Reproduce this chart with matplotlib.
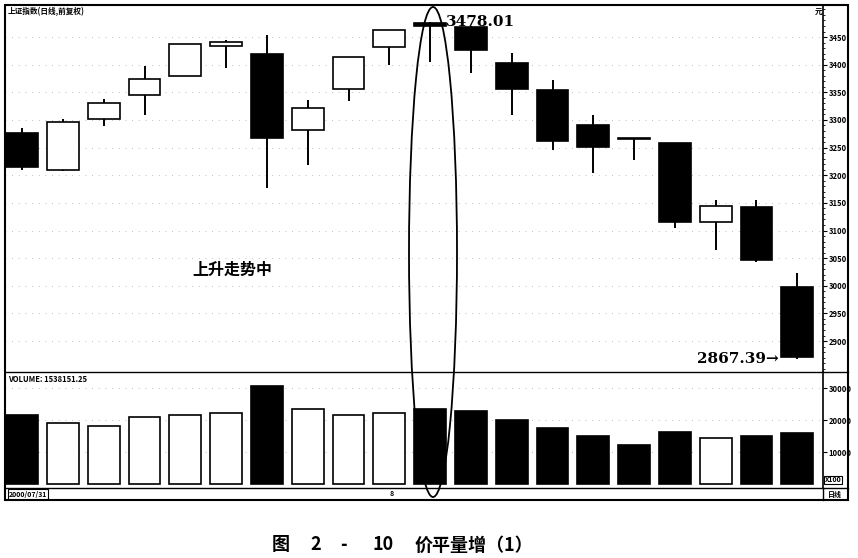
import matplotlib.pyplot as plt
from matplotlib.patches import Ellipse, Rectangle
from matplotlib.ticker import MultipleLocator

plt.rcParams['font.family'] = ['Noto Sans CJK SC', 'DejaVu Sans']

# OHLC (20 daily candles)
opens = [3276, 3209, 3302, 3345, 3379, 3434, 3419, 3282, 3356, 3432,
         3475, 3468, 3403, 3354, 3291, 3267, 3258, 3115, 3143, 2998]
highs = [3285, 3302, 3338, 3398, 3437, 3445, 3454, 3336, 3414, 3463,
         3478.01, 3470, 3421, 3372, 3309, 3268, 3258, 3155, 3155, 3023]
lows = [3209, 3207, 3289, 3309, 3379, 3394, 3177, 3219, 3334, 3399,
        3404, 3385, 3309, 3246, 3204, 3228, 3105, 3065, 3043, 2867.39]
closes = [3215, 3296, 3331, 3374, 3437, 3441, 3267, 3322, 3414, 3463,
          3470, 3426, 3356, 3262, 3251, 3265, 3115, 3144, 3047, 2871]
volumes = [21560, 19060, 18125, 20940, 21560, 22190, 30625, 23440, 21560, 22190,
           23440, 22810, 20000, 17500, 15000, 12190, 16250, 14375, 15000, 15940]

price_ticks = [2900, 2950, 3000, 3050, 3100, 3150, 3200, 3250, 3300, 3350, 3400, 3450]
vol_ticks = [10000, 20000, 30000]

W, H = 858, 558
fig = plt.figure(figsize=(W / 100, H / 100), dpi=100)


def fx(px):
    return px / W


def fy(py):
    return 1 - py / H


L, R = 5, 823
ax = fig.add_axes([fx(L), fy(372), fx(R - L), fy(5) - fy(372)])
axv = fig.add_axes([fx(L), fy(488), fx(R - L), fy(372) - fy(488)])

n = len(opens)
xs = list(range(n))
bw = 0.78

for i in xs:
    o, h, l, c = opens[i], highs[i], lows[i], closes[i]
    up = c > o
    ax.vlines(i, l, h, color='black', lw=1.4, zorder=1)
    bottom = min(o, c)
    height = max(abs(c - o), 3)
    ax.bar(i, height, bw, bottom=bottom, color='white' if up else 'black',
           edgecolor='black', lw=1.2, zorder=2)

ax.set_xlim(-0.42, 19.63)
ax.set_ylim(2844, 3508)
for t in price_ticks:
    ax.axhline(t, color='#aaaaaa', lw=0.6, ls=(0, (1, 7)), zorder=0)

for i in xs:
    up = closes[i] > opens[i]
    axv.bar(i, volumes[i], bw, color='white' if up else 'black',
            edgecolor='black', lw=1.2)
axv.set_xlim(-0.42, 19.63)
axv.set_ylim(-1250, 35000)
for t in vol_ticks:
    axv.axhline(t, color='#aaaaaa', lw=0.6, ls=(0, (1, 7)), zorder=0)

for a in (ax, axv):
    a.set_xticks([])
    a.yaxis.tick_right()
    for s in ('top', 'bottom', 'left'):
        a.spines[s].set_visible(False)
    a.spines['right'].set_linewidth(1.2)
    a.tick_params(axis='y', direction='out', length=3, width=0.8, pad=1,
                  labelsize=5.5)
    for lab in a.get_yticklabels():
        lab.set_fontweight('bold')

ax.set_yticks(price_ticks)
ax.yaxis.set_minor_locator(MultipleLocator(10))
ax.tick_params(axis='y', which='minor', direction='out', length=1.5, width=0.6)
axv.set_yticks(vol_ticks)
axv.set_yticklabels([str(v) for v in vol_ticks], fontsize=5.5, fontweight='bold')

# outer frame and separators
fig.add_artist(Rectangle((fx(5), fy(500)), fx(848 - 5), fy(5) - fy(500),
                         transform=fig.transFigure, fill=False, lw=1.5, color='black'))
for yy in (372, 488):
    fig.add_artist(plt.Line2D([fx(5), fx(848)], [fy(yy), fy(yy)],
                              transform=fig.transFigure, color='black', lw=1.0))
fig.add_artist(plt.Line2D([fx(823), fx(823)], [fy(488), fy(500)],
                          transform=fig.transFigure, color='black', lw=1.0))

# header labels
fig.text(fx(8), fy(12), '上证指数(日线,前复权)', fontsize=5.5, fontweight='bold', va='center')
fig.text(fx(815), fy(12), '元', fontsize=5.5, fontweight='bold', va='center')
fig.text(fx(8), fy(379), 'VOLUME: 1538151.25', fontsize=5.5, fontweight='bold', va='center')
fig.text(fx(9), fy(494), '2000/07/31', fontsize=5, fontweight='bold', va='center',
         bbox=dict(boxstyle='square,pad=0.15', fc='white', ec='black', lw=0.8))
fig.text(fx(390), fy(494), '8', fontsize=5, fontweight='bold', va='center')
fig.text(fx(825), fy(480), 'X100', fontsize=5, fontweight='bold', va='center',
         bbox=dict(boxstyle='square,pad=0.1', fc='white', ec='black', lw=0.8))
fig.text(fx(828), fy(494), '日线', fontsize=5, fontweight='bold', va='center')

# annotations
ax.text(10.4, highs[10], '%.2f' % highs[10], fontsize=11, fontweight='bold',
        family='DejaVu Serif', va='center', ha='left')
ax.text(18.55, lows[19], '%.2f→' % lows[19], fontsize=11, fontweight='bold',
        family='DejaVu Serif', va='center', ha='right')
fig.text(fx(232), fy(270), '上升走势中', fontsize=11.5, fontweight='bold',
         ha='center', va='center')

fig.add_artist(Ellipse((fx(433), fy(252)), fx(48), 490 / H,
                       transform=fig.transFigure, fill=False, lw=1.3, color='black'))

# caption
cap = dict(fontsize=13, fontweight='bold', va='center', ha='left')
fig.text(fx(272), fy(545), '图', **cap)
fig.text(fx(310), fy(545), '2', **cap)
fig.text(fx(340), fy(545), '-', **cap)
fig.text(fx(372), fy(545), '10', **cap)
fig.text(fx(415), fy(545), '价平量增（1）', **cap)

fig.savefig('out.png', dpi=100)
